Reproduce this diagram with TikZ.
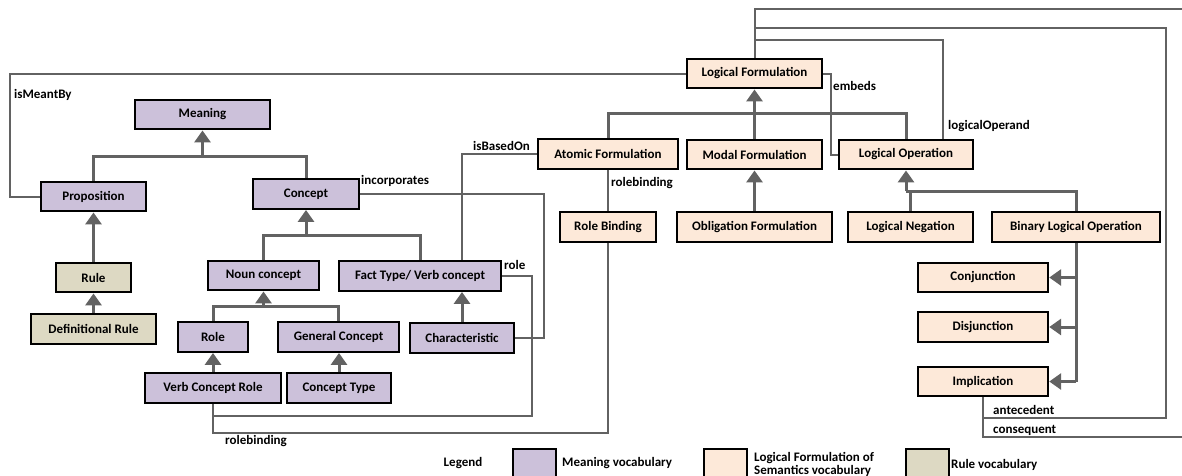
\documentclass[tikz,border=0pt]{standalone}
\usepackage{fontspec}
\setmainfont{Carlito}
\usetikzlibrary{arrows.meta}
\definecolor{meaningfill}{RGB}{204,193,218}
\definecolor{logicfill}{RGB}{253,233,217}
\definecolor{rulefill}{RGB}{221,217,195}
\definecolor{wire}{RGB}{98,98,98}
\begin{document}
\begin{tikzpicture}
            [
                x = 1pt, y = -1pt,
                every node/.style = {font=\bfseries\fontsize{13}{13}\selectfont},
                box/.style = {shape=rectangle, draw=black, line width=2.4pt,
                    inner sep=0pt, align=center, minimum height=29.5pt},
                meaning/.style = {box, fill=meaningfill},
                logic/.style = {box, fill=logicfill},
                rulebox/.style = {box, fill=rulefill},
                genline/.style = {draw=wire, line width=3pt},
                gen/.style = {genline, -{Triangle[width=16pt, length=12pt]}},
                assoc/.style = {draw=wire, line width=2pt},
                lbl/.style = {anchor=west, inner sep=0pt}
            ]
            \useasboundingbox (0,0) rectangle (1182,475);

            \node [meaning, minimum width=135] (meaning) at (202.5,114.5) {Meaning};
            \node [meaning, minimum width=105] (prop) at (93.5,196.5) {Proposition};
            \node [meaning, minimum width=106] (concept) at (306,194) {Concept};
            \node [rulebox, minimum width=75] (rule) at (93.5,277.5) {Rule};
            \node [rulebox, minimum width=125] (defrule) at (93.5,329) {Definitional Rule};
            \node [meaning, minimum width=111] (noun) at (263.5,275.5) {Noun concept};
            \node [meaning, minimum width=70] (role) at (213,337) {Role};
            \node [meaning, minimum width=121] (general) at (338.5,337) {General Concept};
            \node [meaning, minimum width=136] (vcrole) at (213,388) {Verb Concept Role};
            \node [meaning, minimum width=104] (ctype) at (339,388) {Concept Type};
            \node [meaning, minimum width=162] (fact) at (420,276) {Fact Type/ Verb concept};
            \node [meaning, minimum width=104] (charac) at (462,338) {Characteristic};

            \node [logic, minimum width=135] (lf) at (754.5,73.5) {Logical Formulation};
            \node [logic, minimum width=140] (atomic) at (608,154) {Atomic Formulation};
            \node [logic, minimum width=135] (modal) at (754.5,154.5) {Modal Formulation};
            \node [logic, minimum width=134] (lop) at (906,154.5) {Logical Operation};
            \node [logic, minimum width=96] (rb) at (608,227) {Role Binding};
            \node [logic, minimum width=155] (oblig) at (754.5,227) {Obligation Formulation};
            \node [logic, minimum width=125] (neg) at (910.5,227) {Logical Negation};
            \node [logic, minimum width=168] (binop) at (1076,227) {Binary Logical Operation};
            \node [logic, minimum width=130] (conj) at (983,277.5) {Conjunction};
            \node [logic, minimum width=130] (disj) at (983,327) {Disjunction};
            \node [logic, minimum width=130] (impl) at (983,381.5) {Implication};

            \coordinate (mbus) at (202.5,156);
            \coordinate (cbus) at (306,235);
            \coordinate (nbus) at (263.5,306);
            \coordinate (lbus) at (754.5,113);
            \coordinate (obus) at (906,191);
            \draw [genline] (prop.north) |- (mbus) -| (concept.north);
            \draw [gen] (mbus) -- (meaning.south);
            \draw [gen] (rule.north) -- (prop.south);
            \draw [gen] (defrule.north) -- (rule.south);
            \draw [genline] (noun.north) |- (cbus) -| (fact.north);
            \draw [gen] (cbus) -- (concept.south);
            \draw [genline] (role.north) |- (nbus) -| (general.north);
            \draw [gen] (nbus) -- (noun.south);
            \draw [gen] (vcrole.north) -- (role.south);
            \draw [gen] (ctype.north) -- (ctype.north |- general.south);
            \draw [gen] (charac.north) -- (charac.north |- fact.south);
            \draw [genline] (atomic.north) |- (lbus) -| (lop.north);
            \draw [gen] (modal.north) -- (lf.south);
            \draw [gen] (oblig.north) -- (modal.south);
            \draw [genline] (neg.north) |- (obus) -| (binop.north);
            \draw [gen] (obus) -- (lop.south);
            \draw [genline] (binop.south) -- (binop.south |- impl.east);
            \draw [gen] (binop.south |- conj.east) -- (conj.east);
            \draw [gen] (binop.south |- disj.east) -- (disj.east);
            \draw [gen] (binop.south |- impl.east) -- (impl.east);

            \coordinate (meantx) at (10,120);
            \coordinate (incx) at (544,250);
            \coordinate (rolex) at (532,416);
            \coordinate (rbbot) at (400,433);
            \coordinate (embx) at (831,120);
            \coordinate (opx) at (943,40);
            \coordinate (antbot) at (1166,418);
            \coordinate (anttop) at (1166,28);
            \coordinate (consbot) at (1195,437);
            \coordinate (constop) at (1195,9);
            \draw [assoc] (prop.west) -| (meantx) |- (lf.west);
            \draw [assoc] (concept.east) -| (incx) |- (charac.east);
            \draw [assoc] (fact.east) -| (rolex) -| (vcrole.south);
            \draw [assoc] (rb.south) |- (rbbot) -| (vcrole.south);
            \draw [assoc] (atomic.west) -| (fact.north -| charac.north);
            \draw [assoc] (atomic.south) -- (rb.north);
            \draw [assoc] (lf.east) -| (embx) |- (lop.west);
            \draw [assoc] (opx |- lop.north) -- (opx) -| (lf.north);
            \draw [assoc] (impl.south) |- (antbot) -- (anttop) -| (lf.north);
            \draw [assoc] (impl.south) |- (consbot) -- (constop) -| (lf.north);

            \node [lbl] (tmeant) at (14,95) {isMeantBy};
            \node [lbl] (tinc) at (361,181) {incorporates};
            \node [lbl] (trole) at (504,265) {role};
            \node [lbl] (trbbot) at (225,441) {rolebinding};
            \node [lbl] (tbased) at (473,146) {isBasedOn};
            \node [lbl] (trb) at (611,183) {rolebinding};
            \node [lbl] (temb) at (833,86) {embeds};
            \node [lbl] (top) at (948,126) {logicalOperand};
            \node [lbl] (tant) at (993,410) {antecedent};
            \node [lbl] (tcons) at (993,430) {consequent};

            \node (legend) at (463,463) {Legend};
            \node [meaning, minimum width=43, minimum height=32, anchor=north west] (legm) at (512,448) {};
            \node [lbl] (tlegm) at (562,463) {Meaning vocabulary};
            \node [logic, minimum width=43, minimum height=32, anchor=north west] (legl) at (703,448) {};
            \node [lbl, align=left] (tlegl) at (754,464) {Logical Formulation of\\Semantics vocabulary};
            \node [rulebox, minimum width=43, minimum height=32, anchor=north west] (legr) at (905,448) {};
            \node [lbl] (tlegr) at (951,465) {Rule vocabulary};
        \end{tikzpicture}
\end{document}
